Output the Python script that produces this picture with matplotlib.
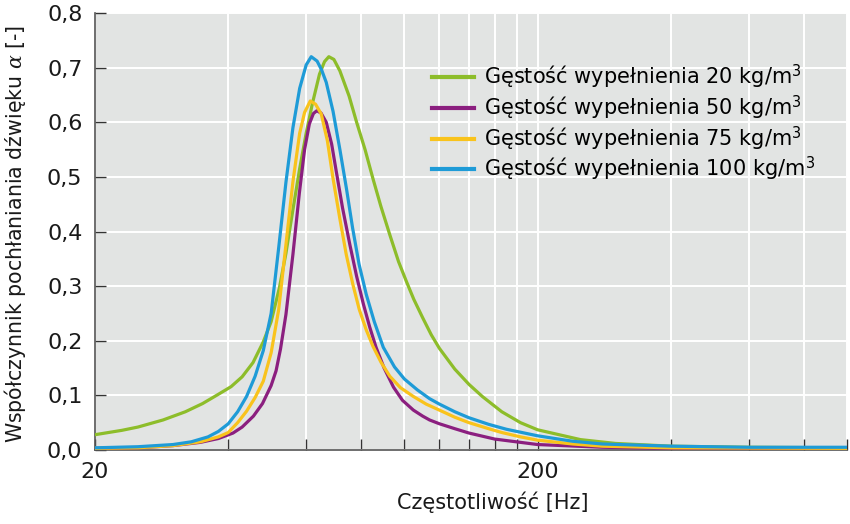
import matplotlib
matplotlib.use("Agg")
import matplotlib.pyplot as plt
from matplotlib.ticker import FixedLocator, NullFormatter

plt.rcParams["font.family"] = ["DejaVu Sans"]
plt.rcParams["mathtext.fontset"] = "custom"
plt.rcParams["mathtext.rm"] = "DejaVu Sans"
plt.rcParams["mathtext.it"] = "DejaVu Serif:italic"

# data (frequency in Hz, absorption coefficient)
f_20 = [20, 23, 25, 28.5, 32, 35, 38, 40.6, 43, 45.5, 48, 50, 52.2, 54, 56, 58, 60, 62, 64.3,
        66, 67.5, 69.3, 71.5, 75, 78, 81.5, 84.9, 88.5, 92.7, 97, 101, 105, 110, 115, 120, 130,
        140, 150, 166, 183, 200, 250, 300, 400, 600, 1000]
a_20 = [0.028, 0.036, 0.042, 0.055, 0.070, 0.085, 0.102, 0.116, 0.134, 0.160, 0.198, 0.235,
        0.297, 0.360, 0.440, 0.515, 0.580, 0.635, 0.688, 0.711, 0.720, 0.715, 0.694, 0.648,
        0.600, 0.550, 0.497, 0.446, 0.394, 0.345, 0.309, 0.276, 0.242, 0.211, 0.186, 0.148,
        0.120, 0.098, 0.070, 0.050, 0.037, 0.019, 0.012, 0.007, 0.005, 0.004]

f_50 = [20, 25, 30, 34.6, 38, 41, 43, 45.6, 47.8, 50, 51.3, 52.5, 54, 56, 57.9, 59.5, 61, 62.3,
        63.4, 64.8, 66.6, 68.5, 70.2, 72.5, 75.3, 78, 80.8, 83.5, 86.3, 90, 94.5, 99, 104.8,
        110, 114, 120, 130, 140, 160, 200, 280, 400, 1000]
a_50 = [0.003, 0.004, 0.008, 0.014, 0.021, 0.031, 0.042, 0.062, 0.085, 0.118, 0.145, 0.185,
        0.248, 0.358, 0.470, 0.550, 0.597, 0.616, 0.621, 0.617, 0.600, 0.560, 0.509, 0.443,
        0.376, 0.318, 0.267, 0.225, 0.188, 0.150, 0.115, 0.091, 0.073, 0.062, 0.055, 0.048,
        0.039, 0.031, 0.020, 0.010, 0.005, 0.003, 0.003]

f_75 = [20, 25, 30, 34.6, 38, 40, 42, 44, 46, 48, 50, 52, 54, 56, 58, 59.5, 61.3, 63, 64.9,
        67, 69, 71.5, 73.9, 76.5, 79.1, 82, 84.9, 88.5, 92.7, 98, 104.8, 112, 120, 130, 140,
        155, 166, 183, 200, 240, 280, 400, 1000]
a_75 = [0.003, 0.004, 0.008, 0.015, 0.024, 0.032, 0.050, 0.071, 0.096, 0.126, 0.178, 0.257,
        0.376, 0.491, 0.580, 0.618, 0.639, 0.633, 0.615, 0.566, 0.497, 0.423, 0.358, 0.303,
        0.257, 0.220, 0.190, 0.161, 0.135, 0.114, 0.098, 0.084, 0.073, 0.060, 0.050, 0.039,
        0.032, 0.024, 0.018, 0.011, 0.007, 0.004, 0.003]

f_100 = [20, 25, 30, 33, 36, 38, 40, 42, 44, 46, 48, 50, 52, 54, 56, 58, 60, 61.6, 63.5, 65,
         66.6, 69, 71.5, 74, 76.4, 79, 82, 85.5, 89.6, 95, 100, 107, 114, 120, 130, 140, 155,
         170, 200, 240, 280, 400, 600, 1000]
a_100 = [0.004, 0.006, 0.010, 0.015, 0.024, 0.034, 0.048, 0.070, 0.098, 0.135, 0.182, 0.250,
         0.370, 0.490, 0.590, 0.662, 0.705, 0.720, 0.712, 0.696, 0.673, 0.620, 0.550, 0.478,
         0.406, 0.340, 0.285, 0.235, 0.188, 0.152, 0.130, 0.110, 0.094, 0.084, 0.070, 0.059,
         0.047, 0.038, 0.026, 0.016, 0.011, 0.007, 0.005, 0.005]

labels = [
    "Gęstość wypełnienia 20 kg/m$^3$",
    "Gęstość wypełnienia 50 kg/m$^3$",
    "Gęstość wypełnienia 75 kg/m$^3$",
    "Gęstość wypełnienia 100 kg/m$^3$",
]
colors = ["#8dbd2a", "#8b1f7f", "#f9c31c", "#1e9bd7"]

x_major = [20, 200]
x_minor = [40, 60, 80, 100, 120, 140, 160, 180, 400, 600, 800, 1000]
y_ticks = [0.0, 0.1, 0.2, 0.3, 0.4, 0.5, 0.6, 0.7, 0.8]

fig = plt.figure(figsize=(8.5, 5.24), dpi=100)
ax = fig.add_axes([95 / 850, 74 / 524, 752 / 850, 437 / 524])
ax.set_facecolor("#e2e4e3")

series = [(f_20, a_20), (f_50, a_50), (f_75, a_75), (f_100, a_100)]
for (f, a), lab, col in zip(series, labels, colors):
    ax.plot(f, a, color=col, lw=2.3, label=lab, solid_joinstyle="round", zorder=3)

ax.set_xscale("log")
ax.set_xlim(20, 1000)
ax.set_ylim(0, 0.8)

ax.xaxis.set_major_locator(FixedLocator(x_major))
ax.set_xticklabels([str(v) for v in x_major])
ax.xaxis.set_minor_locator(FixedLocator(x_minor))
ax.xaxis.set_minor_formatter(NullFormatter())
ax.set_yticks(y_ticks)
ax.set_yticklabels([f"{v:.1f}".replace(".", ",") for v in y_ticks])

ax.grid(which="both", axis="x", color="white", lw=1.4, zorder=1)
ax.grid(which="major", axis="y", color="white", lw=1.4, zorder=1)
ax.set_axisbelow(True)

ax.tick_params(which="both", direction="in", length=8, width=1.0, color="#333333",
               labelsize=16, pad=9, labelcolor="#1a1a1a")

for side in ("top", "right"):
    ax.spines[side].set_visible(False)
for side in ("left", "bottom"):
    ax.spines[side].set_color("#555555")
    ax.spines[side].set_linewidth(1.2)

ax.set_xlabel("Częstotliwość [Hz]", fontsize=15, color="#1a1a1a")
ax.xaxis.set_label_coords(0.529, -0.096)
ax.set_ylabel(r"Współczynnik pochłaniania dźwięku $\alpha$ [-]", fontsize=14.8, color="#1a1a1a")
ax.yaxis.set_label_coords(-0.089, 0.495)

leg = ax.legend(loc="upper left", bbox_to_anchor=(432 / 850, 1 - 63 / 524),
                bbox_transform=fig.transFigure, frameon=False, fontsize=15,
                handlelength=2.0, handletextpad=0.5, labelspacing=0.1,
                borderpad=0, borderaxespad=0)
for line in leg.get_lines():
    line.set_linewidth(3.0)

fig.savefig("out.png", dpi=100)
